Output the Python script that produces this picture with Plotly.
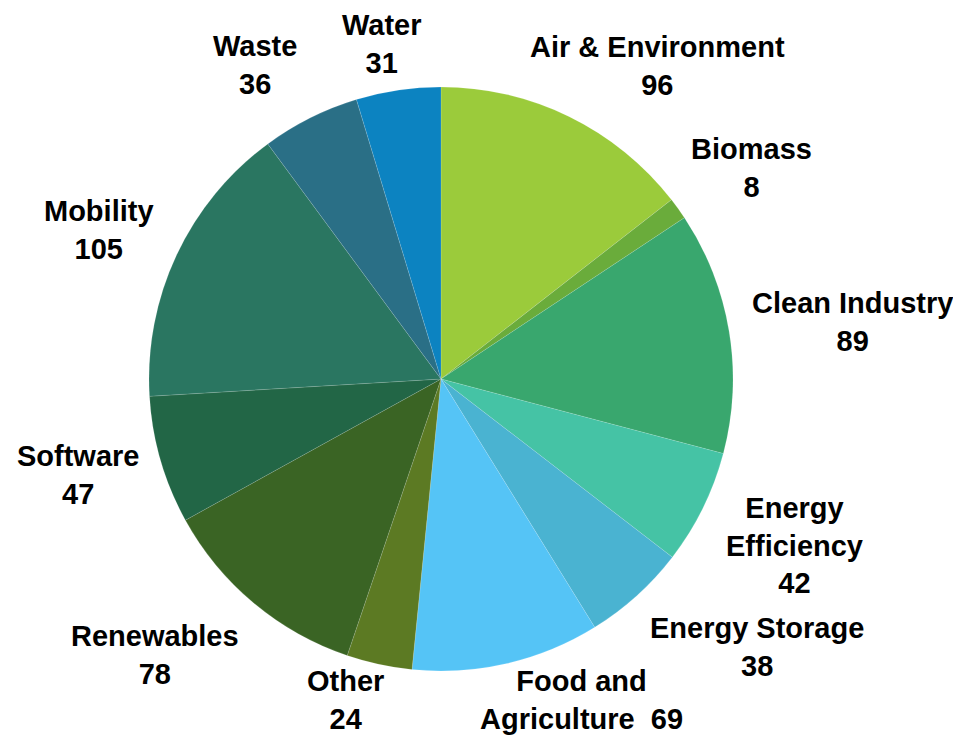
import math
import plotly.graph_objects as go

# ---- data ----
categories = ["Air & Environment", "Biomass", "Clean Industry", "Energy Efficiency",
              "Energy Storage", "Food and Agriculture", "Other", "Renewables",
              "Software", "Mobility", "Waste", "Water"]
values = [96, 8, 89, 42, 38, 69, 24, 78, 47, 105, 36, 31]

# ---- styles ----
colors = ["#9BCB3B", "#6AAC3B", "#39A76E", "#45C3A5", "#4AB3D1", "#55C4F6",
          "#5C7A23", "#3A6424", "#226646", "#2A7661", "#2A6F86", "#0C83C1"]
# display text (line wrapping) for labels
display_names = {
    "Energy Efficiency": "Energy<br>Efficiency",
    "Food and Agriculture": "Food and<br>Agriculture",
}
value_sep = {"Food and Agriculture": "\u00a0\u00a0"}
# label placement relative to slice mid-angle: radius factor and angle nudge (deg)
label_rfac = [1.305, 1.287, 1.421, 1.340, 1.419, 1.199, 1.147, 1.361, 1.286, 1.277, 1.250, 1.165]
label_dang = [8.6, 1.5, 1.5, -0.95, -7.6, -10.6, 4.4, 6.1, 1.4, -1.6, -4.0, -1.6]

W, H = 953, 737
CX, CY, R = 441, 379, 292

fig = go.Figure(go.Pie(
    labels=categories,
    values=values,
    sort=False,
    direction="clockwise",
    rotation=0,
    marker=dict(colors=colors, line=dict(color="rgba(255,255,255,0.18)", width=0.7)),
    textinfo="none",
    hoverinfo="label+value",
    showlegend=False,
    domain=dict(x=[(CX - R) / W, (CX + R) / W], y=[1 - (CY + R) / H, 1 - (CY - R) / H]),
))

total = sum(values)
cum = 0
annotations = []
for i, (cat, v) in enumerate(zip(categories, values)):
    mid = (cum + v / 2) / total * 360 + label_dang[i]
    cum += v
    rr = R * label_rfac[i]
    px = CX + rr * math.sin(math.radians(mid))
    py = CY - rr * math.cos(math.radians(mid))
    txt = display_names.get(cat, cat) + value_sep.get(cat, "<br>") + str(v)
    annotations.append(dict(
        x=px / W, y=1 - py / H, xref="paper", yref="paper",
        text=txt, showarrow=False, xanchor="center", yanchor="middle",
        align="center",
        font=dict(family="Liberation Sans, Arial, sans-serif", size=29, color="#000000",
                  weight="bold"),
    ))

fig.update_layout(
    width=W, height=H,
    margin=dict(l=0, r=0, t=0, b=0),
    paper_bgcolor="white", plot_bgcolor="white",
    annotations=annotations,
)

fig.write_html("out.html")
